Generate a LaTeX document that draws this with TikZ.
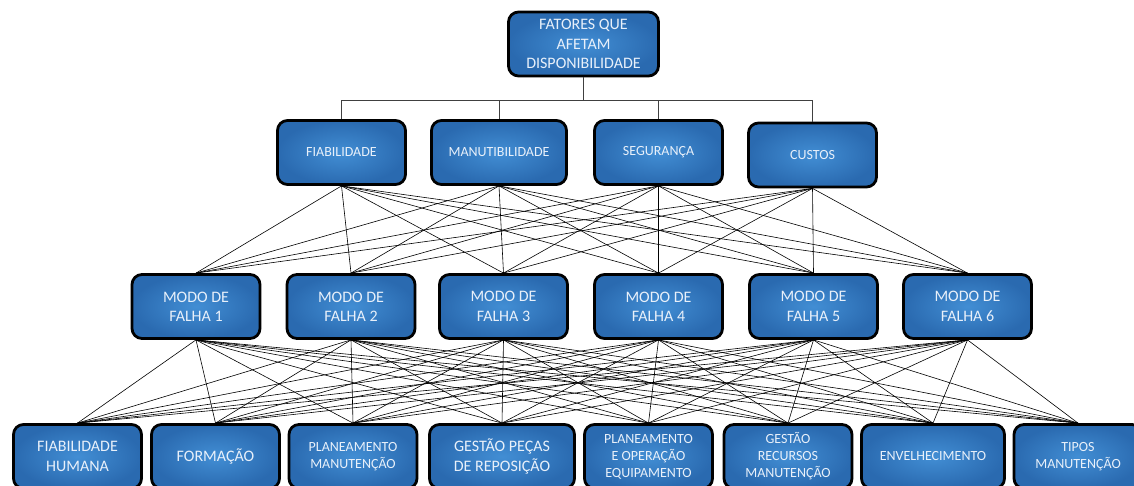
\documentclass[tikz,border=0pt]{standalone}
\usepackage{fontspec}
\setmainfont{Carlito}
\definecolor{boxtext}{RGB}{232,240,250}
\definecolor{boxin}{RGB}{66,142,212}
\definecolor{boxout}{RGB}{42,106,176}
\definecolor{treeline}{RGB}{64,64,64}
\begin{document}
\begin{tikzpicture}[x=1pt,y=-1pt,
  box/.style={draw=black, line width=2.8pt, rounded corners=10pt,
    inner color=boxin, outer color=boxout, text=boxtext,
    align=center, inner sep=0pt, minimum width=128pt, minimum height=64pt},
  big/.style={font=\fontsize{16}{19.3}\selectfont},
  small/.style={font=\fontsize{14}{17}\selectfont},
  mesh/.style={draw=black, line width=0.6pt},
  tree/.style={draw=treeline, line width=0.9pt}]
\useasboundingbox (0,0) rectangle (1134,486);
\clip (0,0) rectangle (1134,486);

% root
\node[box,big,minimum width=150pt] (root) at (583.5,44) {FATORES QUE\\AFETAM\\DISPONIBILIDADE};

% criteria
\node[box,small] (fia) at (341.5,152.5) {FIABILIDADE};
\node[box,small,minimum width=135pt] (man) at (499,152.5) {MANUTIBILIDADE};
\node[box,small] (seg) at (658.5,152.5) {SEGURANÇA};
\node[box,small] (cus) at (812.5,155) {CUSTOS};

% failure modes
\node[box,big] (m1) at (196,306.5) {MODO DE\\FALHA 1};
\node[box,big] (m2) at (351,306.5) {MODO DE\\FALHA 2};
\node[box,big] (m3) at (503.5,306.5) {MODO DE\\FALHA 3};
\node[box,big] (m4) at (658.5,306.5) {MODO DE\\FALHA 4};
\node[box,big] (m5) at (813.5,306.5) {MODO DE\\FALHA 5};
\node[box,big] (m6) at (967.5,306.5) {MODO DE\\FALHA 6};

% factors
\node[box,big] (f1) at (77.5,456.5) {FIABILIDADE\\HUMANA};
\node[box,big] (f2) at (215.5,456.5) {FORMAÇÃO};
\node[box,small] (f3) at (353,456.5) {PLANEAMENTO\\MANUTENÇÃO};
\node[box,big,minimum width=145pt] (f4) at (502,456.5) {GESTÃO PEÇAS\\DE REPOSIÇÃO};
\node[box,small] (f5) at (648.5,456.5) {PLANEAMENTO\\E OPERAÇÃO\\EQUIPAMENTO};
\node[box,small] (f6) at (788,456.5) {GESTÃO\\RECURSOS\\MANUTENÇÃO};
\node[box,small,minimum width=143pt] (f7) at (933,456.5) {ENVELHECIMENTO};
\node[box,small] (f8) at (1078,456.5) {TIPOS\\MANUTENÇÃO};

% tree from the root to the criteria
\coordinate (bus) at (0,100);
\foreach \c in {fia,man,seg,cus}
  \draw[tree] (root.south) -- (root.south |- bus) -| (\c.north);

% criteria to failure modes
\foreach \c in {fia,man,seg,cus}
  \foreach \m in {m1,m2,m3,m4,m5,m6}
    \draw[mesh] (\c.south) -- (\m.north);

% failure modes to factors
\foreach \m in {m1,m2,m3,m4,m5,m6}
  \foreach \f in {f1,f2,f3,f4,f5,f6,f7,f8}
    \draw[mesh] (\m.south) -- (\f.north);
\end{tikzpicture}
\end{document}
